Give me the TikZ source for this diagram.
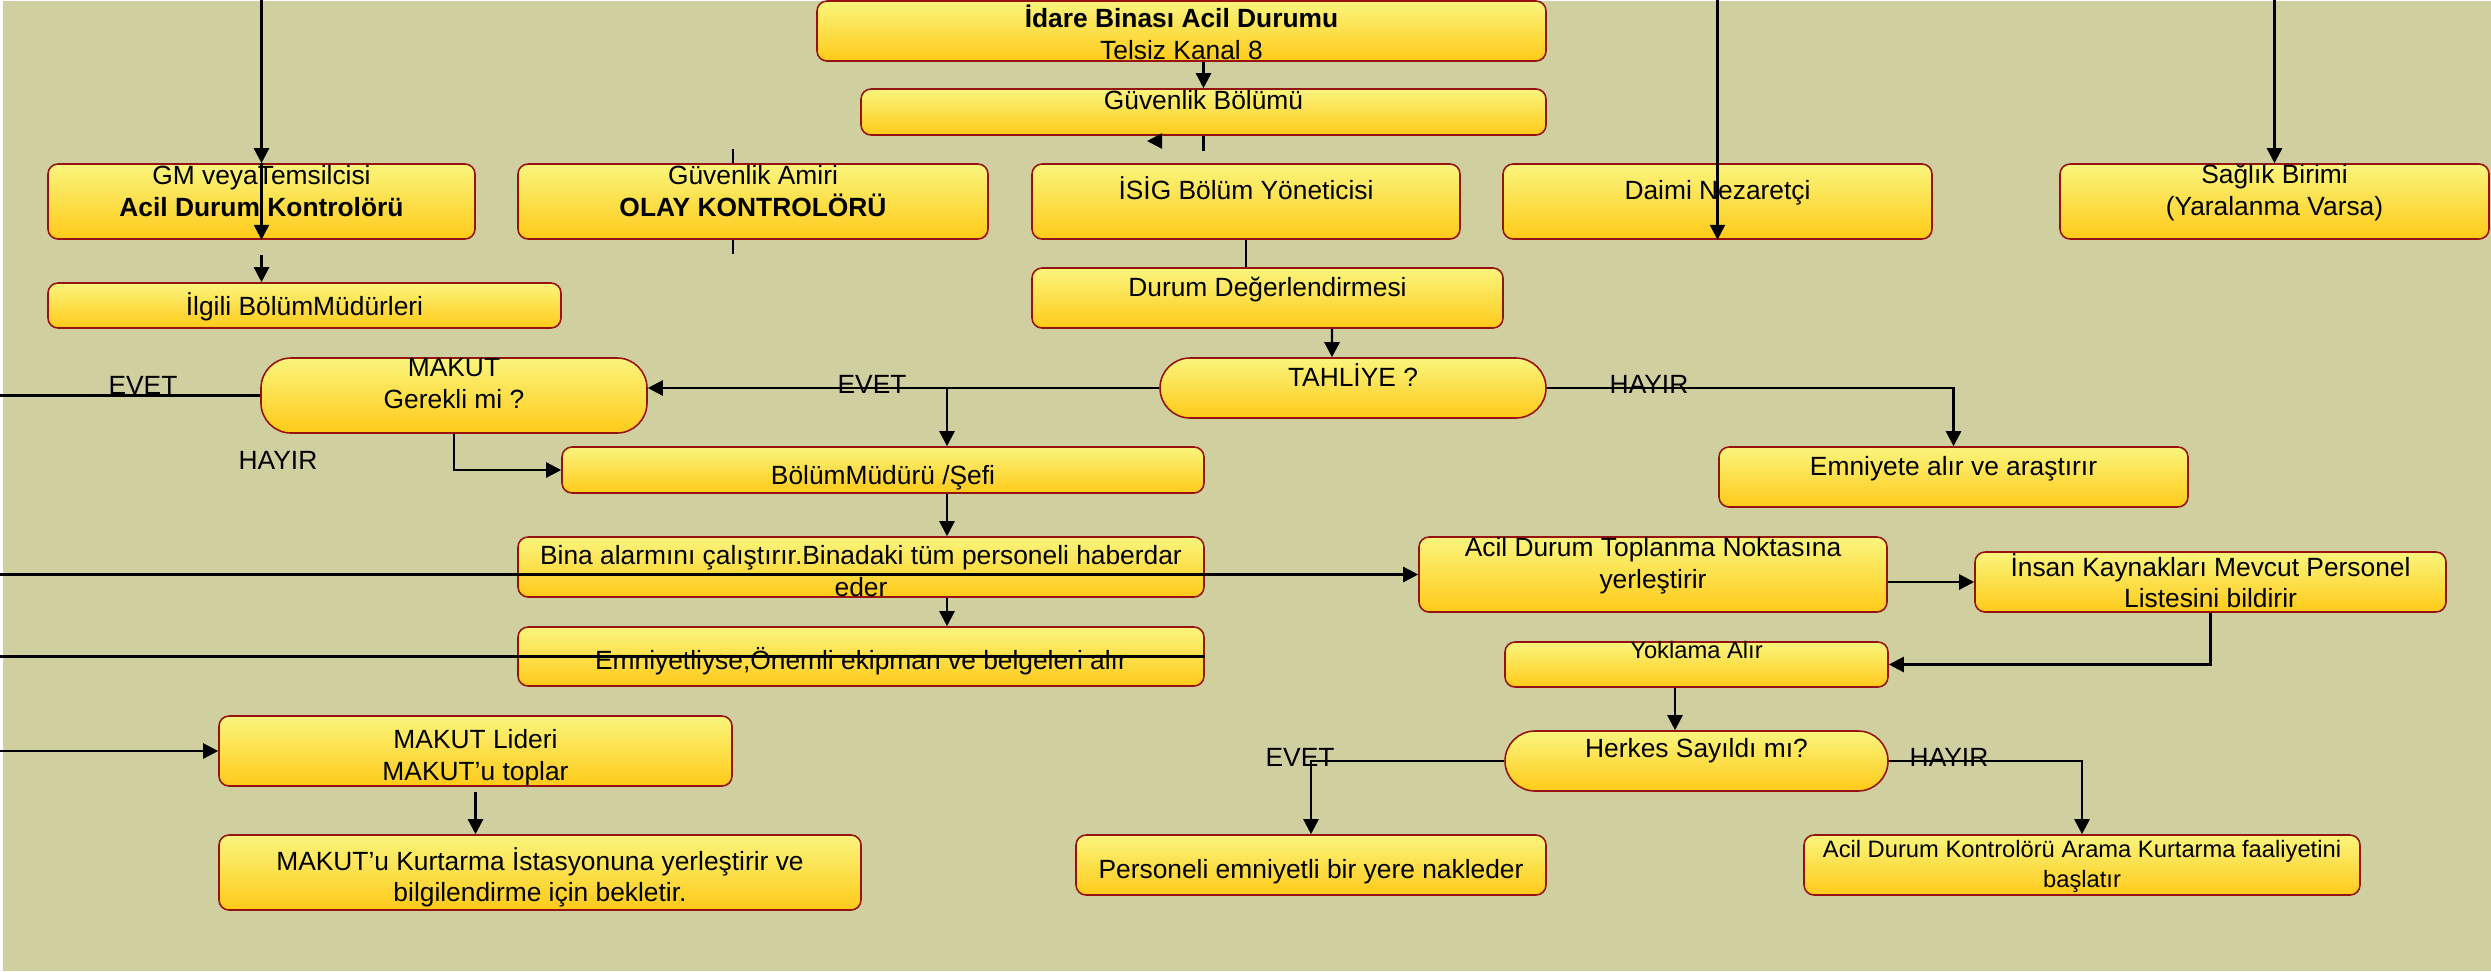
\documentclass[tikz,border=0pt]{standalone}
\usepackage{fontspec}
\setmainfont{Liberation Sans}
\usetikzlibrary{arrows.meta}
\definecolor{bgolive}{RGB}{207,207,160}
\definecolor{boxline}{RGB}{150,20,15}
\definecolor{boxtop}{RGB}{250,245,125}
\definecolor{boxbottom}{RGB}{255,202,25}
\newcommand{\boxlines}[1]{\begin{tabular}{@{}c@{}}#1\end{tabular}}

\begin{document}
\begin{tikzpicture}[
    box/.style={draw=boxline,line width=0.9pt,rounded corners=2mm,top color=boxtop,bottom color=boxbottom,
        inner sep=0pt,text height=0.38cm,text depth=0pt,font=\boxfontsize},
    choice/.style={box,rounded corners=6mm},
    lift/.style={text height=0pt,text depth=#1},
    sink/.style={text height=#1,text depth=0pt},
    link/.style={line width=1.4pt},
    flow/.style={link,-{Triangle[length=3mm,width=3mm]}},
    answer/.style={inner sep=0pt,font=\boxfontsize}]
    \providecommand{\boxfontsize}{\fontsize{15}{18}\selectfont}
    \providecommand{\smallboxfontsize}{\fontsize{13.5}{17}\selectfont}
    \useasboundingbox (0,0) rectangle (49.82,-19.42);
    \fill[bgolive] (0.06,-0.02) rectangle (49.82,-19.42);
    \coordinate (topleft) at (0,0);
    % top rows
    \node[box,minimum width=14.58cm,minimum height=1.2cm,sink=0.5cm] (idare) at (23.63,-0.62) {\boxlines{\textbf{İdare Binası Acil Durumu}\\Telsiz Kanal 8}};
    \node[box,minimum width=13.7cm,minimum height=0.92cm,lift=0.11cm] (guv) at (24.07,-2.24) {\boxlines{Güvenlik Bölümü}};
    \node[box,minimum width=8.54cm,minimum height=1.5cm,lift=0.05cm] (gm) at (5.23,-4.03) {\boxlines{GM veyaTemsilcisi\\\textbf{Acil Durum Kontrolörü}}};
    \node[box,minimum width=9.4cm,minimum height=1.5cm,lift=0.05cm] (amiri) at (15.06,-4.03) {\boxlines{Güvenlik Amiri\\\textbf{OLAY KONTROLÖRÜ}}};
    \node[box,minimum width=8.56cm,minimum height=1.5cm,lift=0.09cm] (isig) at (24.92,-4.03) {\boxlines{İSİG Bölüm Yöneticisi}};
    \node[box,minimum width=8.58cm,minimum height=1.5cm,lift=0.09cm] (daimi) at (34.35,-4.03) {\boxlines{Daimi Nezaretçi}};
    \node[box,minimum width=8.58cm,minimum height=1.5cm,lift=0.09cm] (saglik) at (45.49,-4.03) {\boxlines{Sağlık Birimi\\(Yaralanma Varsa)}};
    \node[box,minimum width=10.26cm,minimum height=0.9cm] (ilgili) at (6.09,-6.11) {\boxlines{İlgili BölümMüdürleri}};
    \node[box,minimum width=9.42cm,minimum height=1.2cm,lift=0.07cm] (durum) at (25.35,-5.96) {\boxlines{Durum Değerlendirmesi}};
    % decisions and actions
    \node[choice,minimum width=7.72cm,minimum height=1.2cm,lift=0.07cm] (tahliye) at (27.06,-7.76) {\boxlines{TAHLİYE ?}};
    \node[choice,minimum width=7.72cm,minimum height=1.5cm,lift=0.13cm] (makut) at (9.08,-7.91) {\boxlines{MAKUT\\Gerekli mi ?}};
    \node[box,minimum width=12.84cm,minimum height=0.92cm,sink=0.58cm] (bolum) at (17.66,-9.4) {\boxlines{BölümMüdürü /Şefi}};
    \node[box,minimum width=9.38cm,minimum height=1.2cm,lift=0.07cm] (emniyete) at (39.07,-9.54) {\boxlines{Emniyete alır ve araştırır}};
    \node[box,minimum width=13.72cm,minimum height=1.2cm,sink=0.54cm] (bina) at (17.22,-11.34) {\boxlines{Bina alarmını çalıştırır.Binadaki tüm personeli haberdar\\eder}};
    \node[box,minimum width=9.36cm,minimum height=1.5cm,lift=0.09cm] (toplanma) at (33.06,-11.49) {\boxlines{Acil Durum Toplanma Noktasına\\yerleştirir}};
    \node[box,minimum width=9.42cm,minimum height=1.2cm] (insan) at (44.21,-11.64) {\boxlines{İnsan Kaynakları Mevcut Personel\\Listesini bildirir}};
    \node[box,minimum width=13.72cm,minimum height=1.18cm,sink=0.52cm] (emniyetli) at (17.22,-13.13) {\boxlines{Emniyetliyse,Önemli ekipman ve belgeleri alır}};
    \node[box,minimum width=7.66cm,minimum height=0.9cm,lift=0.21cm,font=\smallboxfontsize] (yoklama) at (33.93,-13.29) {\boxlines{Yoklama Alır}};
    \node[box,minimum width=10.26cm,minimum height=1.4cm,sink=0.54cm] (lider) at (9.51,-15.02) {\boxlines{MAKUT Lideri\\MAKUT’u toplar}};
    \node[choice,minimum width=7.66cm,minimum height=1.2cm,lift=0.15cm] (herkes) at (33.93,-15.22) {\boxlines{Herkes Sayıldı mı?}};
    \node[box,minimum width=12.84cm,minimum height=1.5cm,sink=0.52cm] (kurtarma) at (10.8,-17.45) {\boxlines{MAKUT’u Kurtarma İstasyonuna yerleştirir ve\\bilgilendirme için bekletir.}};
    \node[box,minimum width=9.4cm,minimum height=1.2cm,sink=0.54cm] (personeli) at (26.22,-17.3) {\boxlines{Personeli emniyetli bir yere nakleder}};
    \node[box,minimum width=11.12cm,minimum height=1.2cm,sink=0.32cm,font=\smallboxfontsize] (arama) at (41.64,-17.3) {\boxlines{Acil Durum Kontrolörü Arama Kurtarma faaliyetini\\başlatır}};
    % answers
    \node[answer] (evetA) at (17.44,-7.68) {EVET};
    \node[answer] (evetB) at (2.86,-7.7) {EVET};
    \node[answer] (hayirA) at (5.56,-9.2) {HAYIR};
    \node[answer] (hayirB) at (32.98,-7.68) {HAYIR};
    \node[answer] (evetC) at (26,-15.14) {EVET};
    \node[answer] (hayirC) at (38.98,-15.14) {HAYIR};
    % connectors
    \draw[flow] (gm.north |- topleft) -- (gm.north);
    \draw[flow] (gm.north) -- (gm.south);
    \draw[flow] ([yshift=-0.3cm]gm.south) -- (gm.south |- ilgili.north);
    \draw[flow] (daimi.south |- topleft) -- (daimi.south);
    \draw[flow] (saglik.north |- topleft) -- (saglik.north);
    \draw[flow] (guv.north |- idare.south) -- (guv.north);
    \draw[link] (guv.south) -- ++(0,-0.3);
    \coordinate (stray) at (23.24,-2.82);
    \draw[flow] (stray) -- ++(-0.3,0);
    \draw[link] ([xshift=-0.4cm]amiri.north) -- ++(0,0.28);
    \draw[link] ([xshift=-0.4cm]amiri.south) -- ++(0,-0.28);
    \draw[link] (isig.south) -- (isig.south |- durum.north);
    \draw[flow] ([xshift=1.29cm]durum.south) -- ([xshift=-0.42cm]tahliye.north);
    \draw[flow] (tahliye.west) -- (tahliye.west -| makut.east);
    \coordinate (split) at (18.94,-7.76);
    \draw[flow] (split) -- (split |- bolum.north);
    \draw[flow] (split |- bolum.south) -- (split |- bina.north);
    \draw[flow] (split |- bina.south) -- (split |- emniyetli.north);
    \draw[link] (makut.west) -- (makut.west -| topleft);
    \draw[flow] (makut.south) |- (bolum.west);
    \draw[flow] (tahliye.east) -| (emniyete.north);
    \draw[flow] (topleft |- toplanma.west) -- (toplanma.west);
    \draw[link] (topleft |- emniyetli.east) -- (emniyetli.east);
    \draw[flow] (topleft |- lider.west) -- (lider.west);
    \draw[flow] ([yshift=-0.1cm]lider.south) -- (lider.south |- kurtarma.north);
    \draw[flow] (insan.west -| toplanma.east) -- (insan.west);
    \draw[flow] (insan.south) |- (yoklama.east);
    \draw[flow] ([xshift=-0.43cm]yoklama.south) -- ([xshift=-0.43cm]herkes.north);
    \draw[flow] (herkes.west) -| (personeli.north);
    \draw[flow] (herkes.east) -| (arama.north);
\end{tikzpicture}
\end{document}
